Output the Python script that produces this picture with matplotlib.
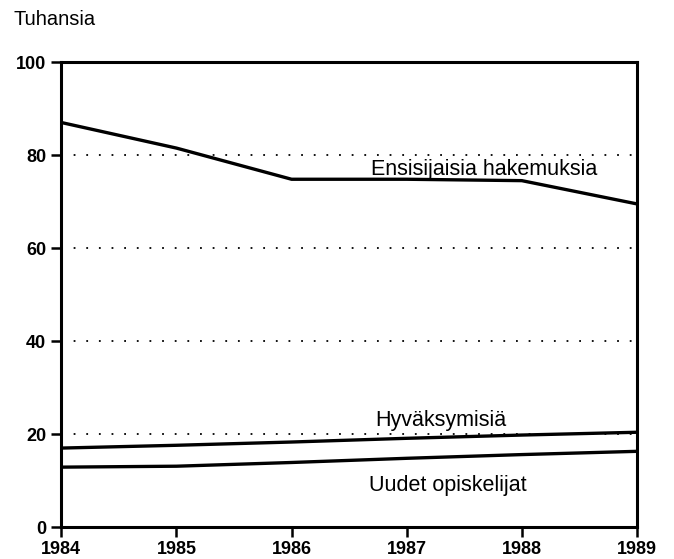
import matplotlib
matplotlib.use("Agg")
import matplotlib.pyplot as plt

plt.rcParams["font.family"] = ["Liberation Sans", "DejaVu Sans"]

years = [1984, 1985, 1986, 1987, 1988, 1989]
hakemuksia = [87.0, 81.5, 74.8, 74.8, 74.5, 69.5]
hyvaksymisia = [17.0, 17.6, 18.3, 19.1, 19.8, 20.4]
uudet = [12.9, 13.1, 13.9, 14.8, 15.6, 16.3]

yticks = [0, 20, 40, 60, 80, 100]

fig = plt.figure(figsize=(6.74, 5.59), dpi=100)
ax = fig.add_axes([0.091, 0.057, 0.854, 0.832])

# dotted guide lines
for g in [20, 40, 60, 80]:
    ax.axhline(g, color="black", linestyle=(0, (1, 6)), linewidth=1.3, zorder=1)

for series in (hakemuksia, hyvaksymisia, uudet):
    ax.plot(years, series, color="black", linewidth=2.4, zorder=3)

ax.set_xlim(1984, 1989)
ax.set_ylim(0, 100)
ax.set_xticks(years)
ax.set_yticks(yticks)
ax.tick_params(direction="out", length=7, width=1.8, labelsize=13, pad=3)
ax.tick_params(axis="y", pad=4)
for lab in ax.get_xticklabels() + ax.get_yticklabels():
    lab.set_fontweight("bold")
for s in ax.spines.values():
    s.set_linewidth(2.2)

ax.text(1987.67, 77.0, "Ensisijaisia hakemuksia", fontsize=15.5, ha="center", va="center")
ax.text(1987.3, 23.0, "Hyväksymisiä", fontsize=15.5, ha="center", va="center")
ax.text(1987.36, 9.0, "Uudet opiskelijat", fontsize=15.5, ha="center", va="center")

fig.text(0.02, 0.966, "Tuhansia", fontsize=14.5, ha="left", va="center")

fig.savefig("out.png", dpi=100)
